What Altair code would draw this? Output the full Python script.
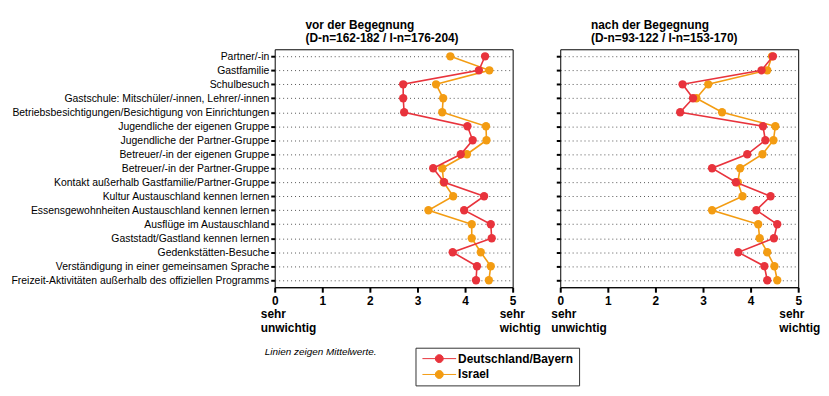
import altair as alt
import pandas as pd

items = [
    "Partner/-in",
    "Gastfamilie",
    "Schulbesuch",
    "Gastschule: Mitschüler/-innen, Lehrer/-innen",
    "Betriebsbesichtigungen/Besichtigung von Einrichtungen",
    "Jugendliche der eigenen Gruppe",
    "Jugendliche der Partner-Gruppe",
    "Betreuer/-in der eigenen Gruppe",
    "Betreuer/-in der Partner-Gruppe",
    "Kontakt außerhalb Gastfamilie/Partner-Gruppe",
    "Kultur Austauschland kennen lernen",
    "Essensgewohnheiten Austauschland kennen lernen",
    "Ausflüge im Austauschland",
    "Gaststadt/Gastland kennen lernen",
    "Gedenkstätten-Besuche",
    "Verständigung in einer gemeinsamen Sprache",
    "Freizeit-Aktivitäten außerhalb des offiziellen Programms",
]

series = ["Deutschland/Bayern", "Israel"]
colors = ["#E8333C", "#F39C12"]

vor_de = [4.42, 4.29, 2.70, 2.70, 2.72, 4.05, 4.16, 3.91, 3.33, 3.56, 4.40, 3.98, 4.54, 4.56, 3.74, 4.25, 4.23]
vor_il = [3.69, 4.51, 3.39, 3.54, 3.52, 4.44, 4.45, 4.04, 3.52, 3.55, 3.75, 3.23, 4.14, 4.14, 4.33, 4.54, 4.50]
nach_de = [4.47, 4.23, 2.57, 2.79, 2.52, 4.26, 4.31, 3.93, 3.19, 3.69, 4.42, 4.12, 4.56, 4.49, 3.74, 4.29, 4.35]
nach_il = [4.45, 4.35, 3.11, 2.86, 3.40, 4.52, 4.48, 4.25, 3.78, 3.73, 3.83, 3.19, 4.16, 4.19, 4.35, 4.50, 4.56]

titles = [
    ["vor der Begegnung", "(D-n=162-182 / I-n=176-204)"],
    ["nach der Begegnung", "(D-n=93-122 / I-n=153-170)"],
]
x_ticks = [0, 1, 2, 3, 4, 5]
scale_low = "sehr\nunwichtig"
scale_high = "sehr\nwichtig"
note = "Linien zeigen Mittelwerte."

FONT = "Liberation Sans"

legend_symbol = "M-3.4,0L3.4,0M-0.8,0A0.8,0.8,0,1,1,0.8,0A0.8,0.8,0,1,1,-0.8,0Z"

color = alt.Color(
    "series:N",
    scale=alt.Scale(domain=series, range=colors),
    legend=alt.Legend(
        title=None,
        orient="none",
        legendX=142,
        legendY=301,
        strokeColor="#333333",
        fillColor="white",
        padding=5,
        symbolType=legend_symbol,
        symbolSize=100,
        symbolStrokeWidth=1,
        symbolOffset=13,
        labelOffset=13,
        labelFont=FONT,
        labelFontSize=12,
        labelFontWeight="bold",
        labelColor="black",
        rowPadding=4,
    ),
)


def panel(de, il, title, first, low_dx, high_dx):
    df = pd.DataFrame({
        "item": items * 2,
        "value": de + il,
        "series": [series[0]] * len(items) + [series[1]] * len(items),
        "order": list(range(len(items))) * 2,
    })
    y = alt.Y(
        "item:N",
        sort=items,
        axis=alt.Axis(
            title=None,
            labels=first,
            labelFont=FONT,
            labelFontSize=10.5,
            labelColor="black",
            labelPadding=2,
            labelLimit=0,
            tickColor="black",
            tickSize=4,
            tickWidth=2,
            domain=False,
            grid=True,
            gridDash=[1, 3],
            gridColor="#555555",
            gridWidth=1,
        ),
    )
    x = alt.X(
        "value:Q",
        scale=alt.Scale(domain=[0, 5], nice=False),
        axis=alt.Axis(
            title=None,
            values=x_ticks,
            format="d",
            labelFont=FONT,
            labelFontSize=12,
            labelFontWeight="bold",
            labelColor="black",
            labelPadding=3,
            labelFlush=False,
            tickColor="black",
            tickSize=5,
            tickWidth=2,
            domainColor="black",
            grid=False,
        ),
    )
    layers = []
    for s in [series[1], series[0]]:
        base = alt.Chart(df).transform_filter(alt.datum.series == s)
        layers.append(
            base.mark_line(strokeWidth=1.6).encode(x=x, y=y, color=color, order="order:Q")
        )
        layers.append(
            base.mark_circle(size=70, opacity=1).encode(x=x, y=y, color=color)
        )
    ann = pd.DataFrame({"pos": [x_ticks[0], x_ticks[-1]], "t": [scale_low, scale_high]})
    low = alt.Chart(ann).transform_filter(alt.datum.pos == 0).mark_text(
        align="left", baseline="top", dx=low_dx, font=FONT, fontSize=12,
        fontWeight="bold", color="black", lineBreak="\n", lineHeight=14,
    ).encode(x=alt.X("pos:Q"), y=alt.value(262), text="t:N")
    high = alt.Chart(ann).transform_filter(alt.datum.pos == 5).mark_text(
        align="left", baseline="top", dx=high_dx, font=FONT, fontSize=12,
        fontWeight="bold", color="black", lineBreak="\n", lineHeight=14,
    ).encode(x=alt.X("pos:Q"), y=alt.value(262), text="t:N")
    layers += [low, high]
    if first:
        nt = alt.Chart(pd.DataFrame({"t": [note]})).mark_text(
            align="left", baseline="middle", font=FONT, fontSize=10,
            fontStyle="italic", color="black",
        ).encode(x=alt.value(-10), y=alt.value(305), text="t:N")
        layers.append(nt)
    return alt.layer(*layers).properties(
        width=240,
        height=240,
        title=alt.Title(
            text=title, anchor="start", frame="group", dx=31, fontSize=12,
            fontWeight="bold", font=FONT, color="black", lineHeight=13, offset=4,
        ),
    )


left = panel(vor_de, vor_il, titles[0], True, -14, -13)
right = panel(nach_de, nach_il, titles[1], False, -9, -19)

chart = (
    alt.hconcat(left, right, spacing=48, bounds="flush")
    .resolve_scale(color="shared")
    .configure_view(stroke="black", strokeWidth=1)
    .properties(padding={"left": 2, "top": 9, "right": 0, "bottom": 0})
)

chart.save("out.html", embed_options={"renderer": "svg", "actions": False})
